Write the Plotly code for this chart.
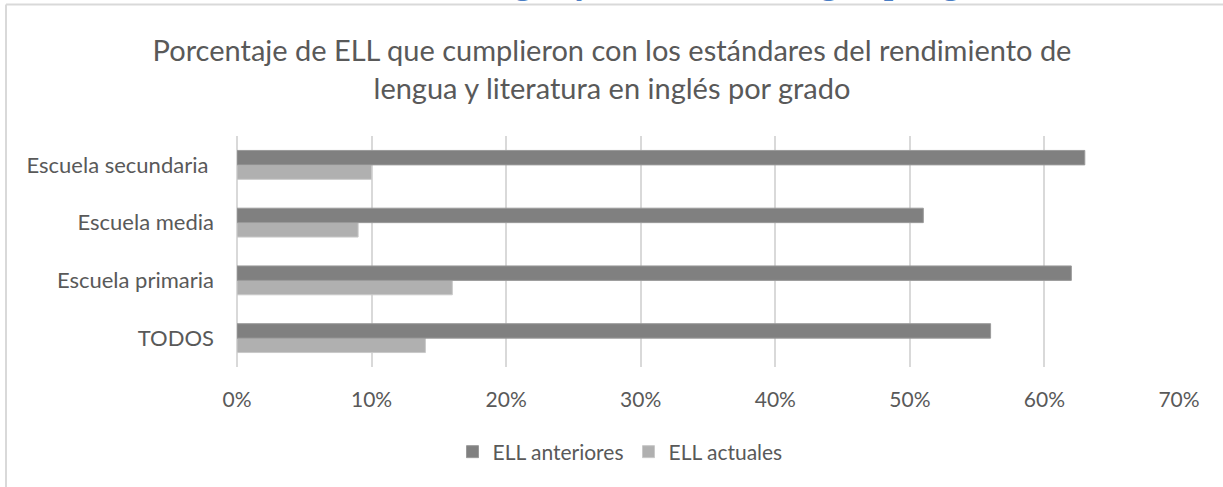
import plotly.graph_objects as go

# data
categorias = ["TODOS", "Escuela primaria", "Escuela media", "Escuela secundaria "]
ell_anteriores = [0.56, 0.62, 0.51, 0.63]
ell_actuales = [0.14, 0.16, 0.09, 0.10]
ticks_x = [0, 0.1, 0.2, 0.3, 0.4, 0.5, 0.6, 0.7]

titulo = ("Porcentaje de ELL que cumplieron con los estándares del rendimiento de"
          "<br>lengua y literatura en inglés por grado")
encabezado = "lengua y literatura en inglés por grado,"  # document heading, cut off above the chart

W, H = 1223, 487
L, R, T, B = 237, 44, 136, 120
pw, ph = W - L - R, H - T - B


def px_x(p):  # pixel -> paper
    return (p - L) / pw


def px_y(p):
    return (H - B - p) / ph


gris_txt = "#595959"
fuente = "Lato"

fig = go.Figure()

# light first so the dark bar sits on top inside each pair
fig.add_trace(go.Bar(
    y=categorias, x=ell_actuales, name="ELL actuales", orientation="h",
    marker=dict(color="#b0b0b0", line=dict(color="#c9c9c9", width=1)),
))
fig.add_trace(go.Bar(
    y=categorias, x=ell_anteriores, name="ELL anteriores", orientation="h",
    marker=dict(color="#808080", line=dict(color="#9a9a9a", width=1)),
))

fig.update_layout(
    width=W, height=H,
    margin=dict(l=L, r=R, t=T, b=B, pad=0),
    paper_bgcolor="white", plot_bgcolor="white",
    barmode="group", bargap=0.5, bargroupgap=0,
    font=dict(family=fuente, color=gris_txt, size=21),
    title=dict(text=titulo, x=612 / W, xanchor="center", y=1 - 61 / H, yanchor="middle",
               font=dict(family=fuente, size=29, color=gris_txt)),
    legend=dict(orientation="h", traceorder="reversed", x=px_x(620), xanchor="center",
                y=px_y(452), yanchor="middle", font=dict(size=21, color=gris_txt),
                itemwidth=30),
    showlegend=True,
)

fig.update_xaxes(
    range=[0, 0.7], tickvals=ticks_x, tickformat=".0%",
    showgrid=True, gridcolor="#d9d9d9", gridwidth=1.5,
    zeroline=True, zerolinecolor="#d9d9d9", zerolinewidth=1.5,
    showline=False, ticks="", ticklabelstandoff=18,
    tickfont=dict(size=21, color=gris_txt),
)
fig.update_yaxes(
    showgrid=False, zeroline=False, showline=False, ticks="",
    ticklabelstandoff=22, tickfont=dict(size=22, color=gris_txt),
)

# chart frame (only top and left edges visible in the crop)
fig.add_shape(type="line", xref="paper", yref="paper", x0=px_x(6), x1=px_x(1240),
              y0=px_y(4.5), y1=px_y(4.5), line=dict(color="#d9d9d9", width=2))
fig.add_shape(type="line", xref="paper", yref="paper", x0=px_x(6), x1=px_x(6),
              y0=px_y(4.5), y1=px_y(500), line=dict(color="#d9d9d9", width=2))

# clipped document heading: only descenders peek in at the top
fig.add_annotation(text="<b>" + encabezado + "</b>", xref="paper", yref="paper",
                   x=px_x(469), xanchor="left", y=px_y(3), yanchor="bottom",
                   showarrow=False, font=dict(family="Liberation Serif", size=34, color="#4a7dc4"))

# drop the default body margin so the figure sits at the window origin
fig.write_html("out.html", config={"displayModeBar": False},
               post_script="document.body.style.margin='0';document.body.style.overflow='hidden';")
